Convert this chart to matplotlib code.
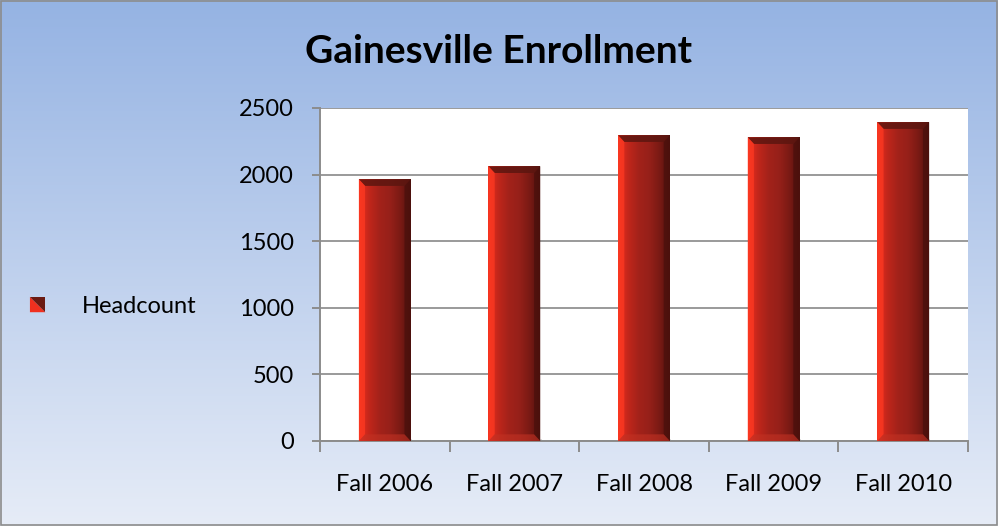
import numpy as np
import matplotlib.pyplot as plt
from matplotlib.patches import Polygon, Rectangle
from matplotlib.colors import LinearSegmentedColormap
from matplotlib.legend_handler import HandlerBase

# Datos del gráfico
categorias = ['Fall 2006', 'Fall 2007', 'Fall 2008', 'Fall 2009', 'Fall 2010']
headcount = [1965, 2062, 2295, 2280, 2393]
serie = 'Headcount'
titulo = 'Gainesville Enrollment'
yticks = [0, 500, 1000, 1500, 2000, 2500]

plt.rcParams['font.family'] = ['Lato', 'DejaVu Sans']

fig = plt.figure(figsize=(9.98, 5.26), dpi=100)

# Fondo degradado de la figura
bg = fig.add_axes([0, 0, 1, 1], zorder=-10)
fondo = LinearSegmentedColormap.from_list('fondo', ['#e6ecf7', '#95b3e3'])
bg.imshow(np.linspace(0, 1, 256).reshape(-1, 1), cmap=fondo, aspect='auto',
          extent=[0, 1, 0, 1], origin='lower')
bg.add_patch(Rectangle((0.001, 0.002), 0.998, 0.996, fill=False,
                       edgecolor='#8c8c8c', lw=1.2))
bg.set_xlim(0, 1)
bg.set_ylim(0, 1)
bg.axis('off')

ax = fig.add_axes([0.3206, 0.1616, 0.6494, 0.6331])
ax.set_facecolor('white')

x = np.arange(len(categorias))
barras = ax.bar(x, headcount, width=0.4, color='none', zorder=3)

ax.set_xlim(-0.5, len(categorias) - 0.5)
ax.set_ylim(0, 2500)

# Degradado horizontal de cada barra y biseles
cuerpo = LinearSegmentedColormap.from_list(
    'cuerpo', ['#f0301f', '#c0261b', '#a3221a', '#962019', '#7a1a14', '#4e120e'])
dx = 0.4 * 0.12
dy = 2500 * 0.02
for b in barras:
    x0, y0 = b.get_x(), b.get_y()
    x1, y1 = x0 + b.get_width(), y0 + b.get_height()
    # sombra suave
    ax.add_patch(Rectangle((x0 + 0.01, y0 - 8), x1 - x0, 20, color='#bdbdbd',
                           alpha=0.5, zorder=2, lw=0))
    im = ax.imshow(np.linspace(0, 1, 256).reshape(1, -1), cmap=cuerpo,
                   aspect='auto', extent=[x0, x1, y0, y1], zorder=3)
    im.set_clip_path(b)
    # bisel superior
    ax.add_patch(Polygon([(x0, y1), (x1, y1), (x1 - dx, y1 - dy), (x0 + dx, y1 - dy)],
                         closed=True, facecolor='#5c1610', alpha=0.85, lw=0, zorder=4))
    # bisel izquierdo
    ax.add_patch(Polygon([(x0, y0), (x0, y1), (x0 + dx, y1 - dy), (x0 + dx, y0 + dy)],
                         closed=True, facecolor='#ff3a22', alpha=0.7, lw=0, zorder=4))
    # bisel derecho
    ax.add_patch(Polygon([(x1, y0), (x1, y1), (x1 - dx, y1 - dy), (x1 - dx, y0 + dy)],
                         closed=True, facecolor='#4a100c', alpha=0.75, lw=0, zorder=4))
    # bisel inferior
    ax.add_patch(Polygon([(x0, y0), (x1, y0), (x1 - dx, y0 + dy), (x0 + dx, y0 + dy)],
                         closed=True, facecolor='#c23224', alpha=0.6, lw=0, zorder=4))

# Ejes y cuadrícula
ax.set_yticks(yticks)
ax.yaxis.grid(True, color='#9a9a9a', lw=1.4, zorder=1)
ax.set_axisbelow(True)
for s in ['top', 'right']:
    ax.spines[s].set_visible(False)
for s in ['left', 'bottom']:
    ax.spines[s].set_color('#8c8c8c')
    ax.spines[s].set_linewidth(1.4)
ax.set_xticks(np.arange(len(categorias) + 1) - 0.5)
ax.set_xticklabels([])
ax.set_xticks(x, minor=True)
ax.set_xticklabels(categorias, minor=True)
ax.tick_params(axis='x', which='major', length=8, width=1.4, color='#8c8c8c')
ax.tick_params(axis='x', which='minor', length=0, pad=24, labelsize=17)
ax.tick_params(axis='y', length=6, width=1.4, color='#8c8c8c', labelsize=17, pad=13)

fig.text(0.5, 0.903, titulo, ha='center', va='center', fontsize=28,
         fontweight='bold', color='black')


# Leyenda con marcador de dos triángulos
class HandlerBisel(HandlerBase):
    def create_artists(self, legend, orig_handle, xdescent, ydescent, width, height,
                       fontsize, trans):
        s = min(width, height)
        xa, ya = -xdescent + (width - s) / 2, -ydescent
        t1 = Polygon([(xa, ya), (xa, ya + s), (xa + s, ya)], closed=True,
                     facecolor='#f0301f', lw=0, transform=trans)
        t2 = Polygon([(xa, ya + s), (xa + s, ya + s), (xa + s, ya)], closed=True,
                     facecolor='#6a1a12', lw=0, transform=trans)
        return [t1, t2]


fig.legend([barras[0]], [serie], handler_map={type(barras[0]): HandlerBisel()},
           loc='center left', bbox_to_anchor=(0.030, 0.418), frameon=False,
           borderaxespad=0, borderpad=0,
           fontsize=17, handlelength=0.65, handleheight=0.65, handletextpad=1.55)

fig.savefig('out.png', dpi=100)
